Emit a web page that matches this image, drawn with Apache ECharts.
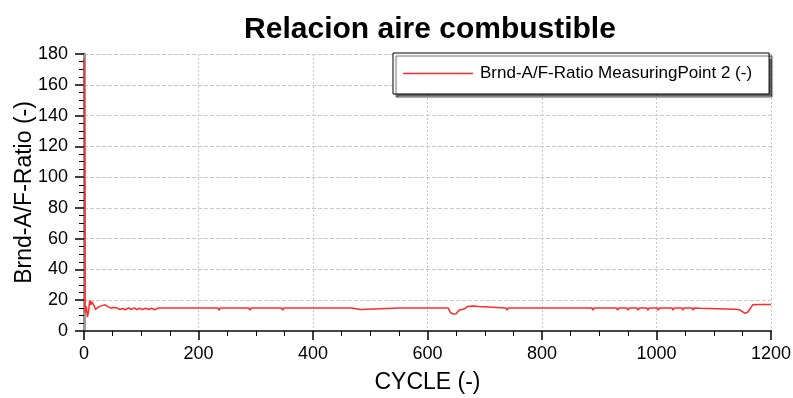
<!DOCTYPE html>
<html>
<head>
<meta charset="utf-8">
<script src="https://cdn.jsdelivr.net/npm/echarts@6/dist/echarts.min.js"></script>
<style>html,body{margin:0;padding:0;background:#fff}#c{width:793px;height:398px}</style>
</head>
<body>
<div id="c"></div>
<script>
const titleText = 'Relacion aire combustible';
const seriesName = 'Brnd-A/F-Ratio MeasuringPoint 2 (-)';
const xName = 'CYCLE (-)';
const yName = 'Brnd-A/F-Ratio (-)';

const cycles = [0,1,2,4,6,8,10,12,14,16,18,20,23,27,32,37,41,46,52,58,62,68,72,78,82,88,92,97,102,108,113,118,124,128,135,180,
  234,236,238,288,290,292,345,347,349,400,467,469,483,485,550,636,640,645,650,655,660,665,670,680,690,692,
  737,739,741,800,887,889,891,930,932,934,948,950,952,966,968,970,983,985,987,1001,1003,1005,1027,1029,1031,
  1044,1046,1048,1062,1064,1066,1076,1078,1137,1145,1155,1160,1168,1180,1200];
const ratio = [177,120,12,16,9,13,20,17,19,20,16,14,15,16,16.5,17,16,15,15.2,15,14,14.6,13.8,15,14,15,13.8,14.8,14,14.8,14,14.8,13.8,14.8,15,15,
  15,13.5,15,15,13.5,15,15,13.5,15,15,15,14,14,15,15,15,12,11,11.2,13.5,14,14.5,16,16.3,16,15,
  15,13.5,15,15,15,13.5,15,15,13.5,15,15,13.5,15,15,13.5,15,15,13.5,15,15,13.5,15,15,13.5,15,
  15,13.5,15,15,13.5,15,14.8,14.2,14.2,13.8,11.5,12.5,17,17.2,17.2];

const xTicks = [0,200,400,600,800,1000,1200];
const yTicks = [0,20,40,60,80,100,120,140,160,180];

const data = cycles.map((c,i)=>[c, ratio[i]]);
const FONT = 'Liberation Sans, Arial, sans-serif';
const chart = echarts.init(document.getElementById('c'));
chart.setOption({
  animation:false,
  backgroundColor:'#fff',
  title:{text:titleText,left:425,textAlign:'center',top:10,
    textStyle:{fontFamily:FONT,fontSize:30,fontWeight:'bold',color:'#000'}},
  grid:{left:84,right:22,top:54,bottom:67,show:false,containLabel:false,outerBoundsMode:'none'},
  legend:{show:true,left:393,top:53,padding:[12,17,12,10],itemWidth:70,itemHeight:1.5,itemGap:6,icon:'rect',
    backgroundColor:'#fff',borderColor:'#000',borderWidth:1,
    shadowColor:'rgba(0,0,0,0.6)',shadowBlur:1,shadowOffsetX:3,shadowOffsetY:3,
    textStyle:{fontFamily:FONT,fontSize:17,color:'#000',padding:[0,0,0,2]}},
  xAxis:[{type:'value',min:0,max:1200,interval:200,
    name:xName,nameLocation:'middle',nameGap:40,nameMoveOverlap:false,
    nameTextStyle:{fontFamily:FONT,fontSize:23,color:'#000'},
    axisLine:{show:true,lineStyle:{color:'#000',width:2}},
    axisTick:{show:true,length:9,lineStyle:{color:'#000',width:1.5}},
    minorTick:{show:true,splitNumber:4,length:5,lineStyle:{color:'#000'}},
    axisLabel:{fontFamily:FONT,fontSize:18,color:'#000',margin:14,formatter:v=>xTicks.includes(v)?String(v):''},
    splitLine:{show:true,lineStyle:{color:'#c8c8c8',type:[2,2],width:1}}},
    {type:'value',position:'top',min:0,max:1200,axisLine:{show:true,lineStyle:{color:'#444',width:2}},
     axisTick:{show:false},axisLabel:{show:false},splitLine:{show:false}}],
  yAxis:[{type:'value',min:0,max:180,interval:20,
    name:yName,nameLocation:'middle',nameGap:48,nameMoveOverlap:false,
    nameTextStyle:{fontFamily:FONT,fontSize:23,color:'#000'},
    axisLine:{show:true,lineStyle:{color:'#000',width:2}},
    axisTick:{show:true,length:9,lineStyle:{color:'#000',width:1.5}},
    minorTick:{show:true,splitNumber:4,length:5,lineStyle:{color:'#000'}},
    axisLabel:{fontFamily:FONT,fontSize:18,color:'#000',margin:16,formatter:v=>yTicks.includes(v)?String(v):''},
    splitLine:{show:true,lineStyle:{color:'#c8c8c8',type:[4,2],width:1}}},
    {type:'value',position:'right',min:0,max:180,axisLine:{show:true,lineStyle:{color:'#999',width:3}},
     axisTick:{show:false},axisLabel:{show:false},splitLine:{show:false}}],
  series:[{name:seriesName,type:'line',data:data,showSymbol:false,symbol:'none',
    lineStyle:{color:'#ff2b2b',width:1.5},itemStyle:{color:'#ff2b2b'}}]
});
</script>
</body>
</html>
